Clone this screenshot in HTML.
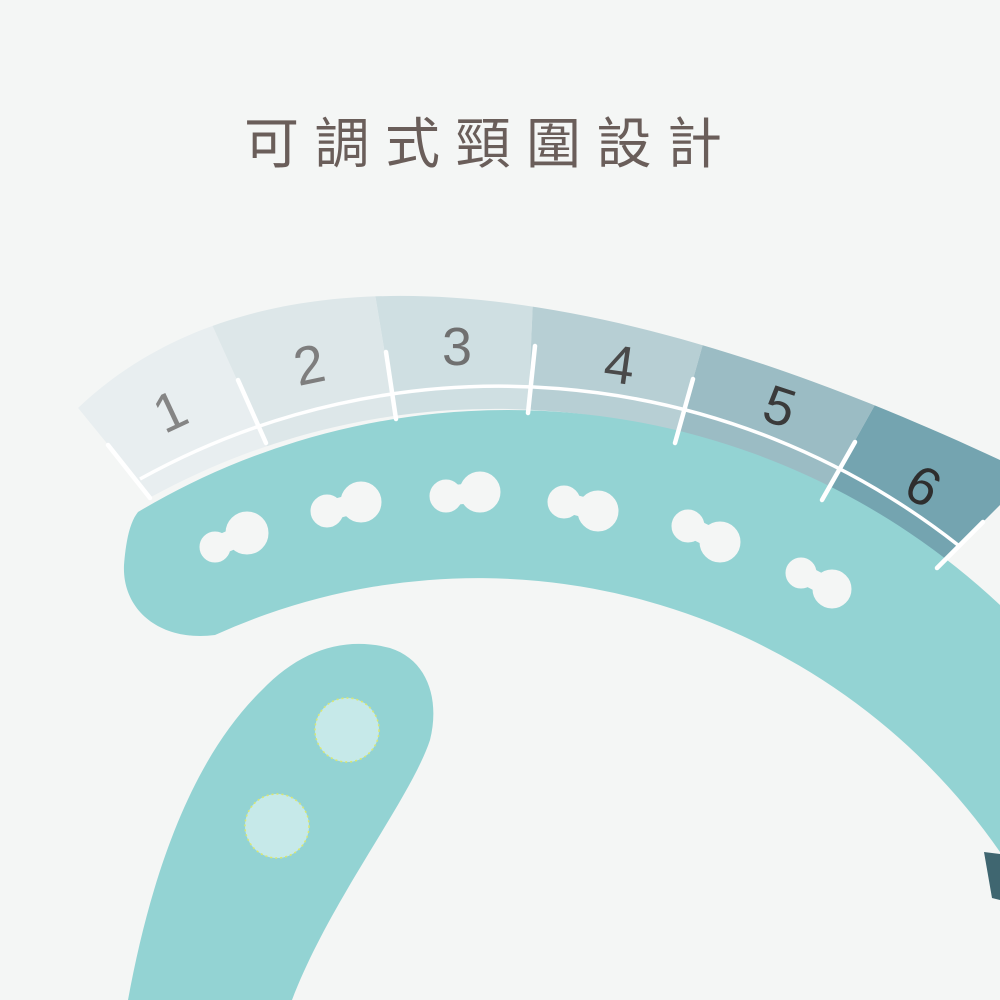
<!DOCTYPE html>
<html><head><meta charset="utf-8"><style>
html,body{margin:0;padding:0;background:#f4f6f5;}
svg{display:block}
</style></head><body>
<svg width="1000" height="1000" viewBox="0 0 1000 1000" xmlns="http://www.w3.org/2000/svg">
<rect width="1000" height="1000" fill="#f4f6f5"/>
<text x="244" y="163" font-family="'Liberation Sans','Noto Sans CJK TC',sans-serif" font-size="55" fill="#6a5e5a" letter-spacing="15.5">可調式頸圍設計</text>
<defs>
<clipPath id="band"><path d="M78,408 C260,235 594,270 1000,460 L1000,520 L941,565 A715,715 0 0 0 151,497 Z"/></clipPath>
</defs>
<g clip-path="url(#band)">
<polygon points="35,354 189,274 295,508 193,552" fill="#e8eef0"/>
<polygon points="189,274 364,228 408,492 295,508" fill="#dde7e9"/>
<polygon points="364,228 536,232 525,481 408,492" fill="#cfdfe2"/>
<polygon points="536,232 723,273 657,507 525,481" fill="#b7cfd4"/>
<polygon points="723,273 904,353 791,555 657,507" fill="#9bbcc4"/>
<polygon points="904,353 1070,435 887,618 791,555" fill="#74a4b0"/>
</g>
<!-- upper strap -->
<path d="M138,512 A720,720 0 0 1 1000,605 L1000,852 A635,635 0 0 0 215,635 C160,642 122,610 124,565 C126,540 130,522 138,512 Z" fill="#93d3d3"/>
<g fill="#f4f6f5" stroke="#f4f6f5" stroke-linecap="round">
<circle cx="215" cy="547" r="15"/><circle cx="247" cy="533" r="21"/><line x1="215" y1="547" x2="247" y2="533" stroke-width="20"/>
<circle cx="327" cy="511" r="16"/><circle cx="361" cy="502" r="20"/><line x1="327" y1="511" x2="361" y2="502" stroke-width="20"/>
<circle cx="446" cy="496" r="16"/><circle cx="480" cy="492" r="20"/><line x1="446" y1="496" x2="480" y2="492" stroke-width="20"/>
<circle cx="564" cy="502" r="16"/><circle cx="598" cy="511" r="20"/><line x1="564" y1="502" x2="598" y2="511" stroke-width="20"/>
<circle cx="688" cy="526" r="16"/><circle cx="720" cy="542" r="20"/><line x1="688" y1="526" x2="720" y2="542" stroke-width="20"/>
<circle cx="801" cy="573" r="15"/><circle cx="832" cy="589" r="19"/><line x1="801" y1="573" x2="832" y2="589" stroke-width="19"/>
</g>
<!-- white scale line and ticks -->
<path d="M140,479 A742,742 0 0 1 958,545" fill="none" stroke="#fff" stroke-width="3.5"/>
<g stroke="#fff" stroke-width="4.5" stroke-linecap="round">
<line x1="108" y1="445" x2="150" y2="498"/>
<line x1="238" y1="380" x2="266" y2="443"/>
<line x1="386" y1="352" x2="396" y2="419"/>
<line x1="535" y1="346" x2="528" y2="413"/>
<line x1="693" y1="379" x2="675" y2="443"/>
<line x1="855" y1="442" x2="822" y2="500"/>
<line x1="983" y1="522" x2="937" y2="568"/>
</g>
<g font-family="'Liberation Sans',sans-serif" font-size="54" text-anchor="middle">
<text transform="translate(178,428) rotate(-25)" fill="#858585">1</text>
<text transform="translate(313,383) rotate(-12)" fill="#7e7e7e">2</text>
<text transform="translate(457,365)" fill="#707070">3</text>
<text transform="translate(617,383) rotate(8)" fill="#4a4a4a">4</text>
<text transform="translate(774,424) rotate(18)" fill="#3a3a3a">5</text>
<text transform="translate(914,502) rotate(30)" fill="#2e2e2e">6</text>
</g>
<!-- dark bit bottom right -->
<path d="M984,852 L1000,854 L1000,900 L992,898 Z" fill="#3f6670"/>
<!-- lower strap -->
<path d="M128,1000 C150,880 190,760 262,690 C300,650 345,636 390,648 C428,660 440,700 430,740 C410,800 330,900 292,1000 Z" fill="#93d3d3"/>
<circle cx="347" cy="730" r="32" fill="#c6e9e9" stroke="#dde86e" stroke-width="1.5" stroke-dasharray="2 3"/>
<circle cx="277" cy="826" r="32" fill="#c6e9e9" stroke="#dde86e" stroke-width="1.5" stroke-dasharray="2 3"/>
</svg>
</body></html>
